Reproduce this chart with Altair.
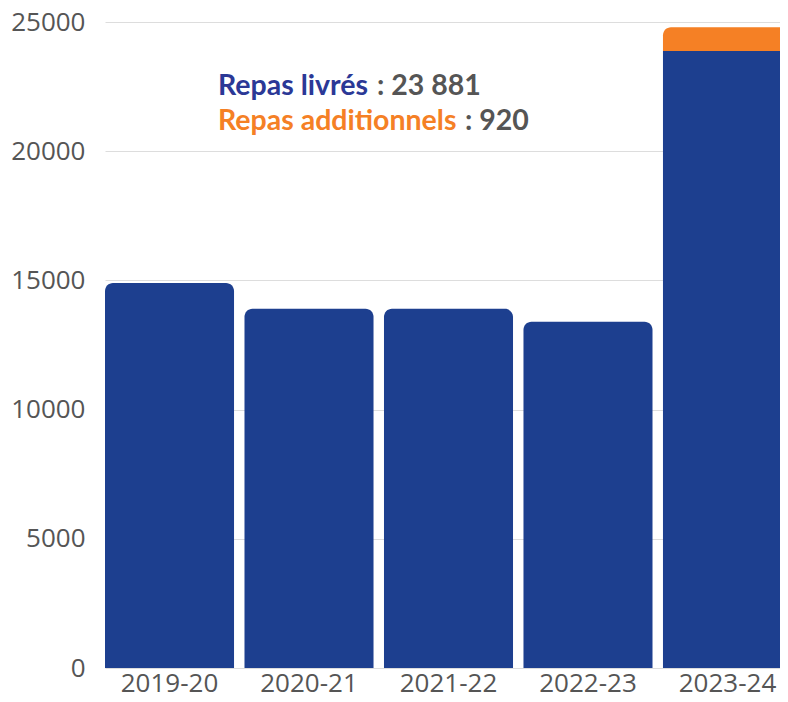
import altair as alt
import pandas as pd

years = ["2019-20", "2020-21", "2021-22", "2022-23", "2023-24"]
repas_livres = [14900, 13900, 13900, 13400, 23881]
repas_additionnels = [0, 0, 0, 0, 920]
series_names = ["Repas livrés", "Repas additionnels"]
y_ticks = [0, 5000, 10000, 15000, 20000, 25000]

BLUE = "#1D3F8F"
ORANGE = "#F58025"
TEXT_BLUE = "#2B3896"
GREY = "#555555"

rows = []
for i, yr in enumerate(years):
    has_add = repas_additionnels[i] > 0
    rows.append({"year": yr, "series": series_names[0], "value": repas_livres[i],
                 "order": 0, "top": not has_add})
    if has_add:
        rows.append({"year": yr, "series": series_names[1], "value": repas_additionnels[i],
                     "order": 1, "top": True})
df = pd.DataFrame(rows)

x_enc = alt.X("year:N", sort=years,
              scale=alt.Scale(paddingInner=0.075, paddingOuter=0, range=[0, 687]),
              axis=alt.Axis(title=None, labelAngle=0, ticks=False, domain=False,
                            labelFont="Open Sans", labelFontSize=26, labelColor=GREY,
                            labelPadding=2))
y_scale = alt.Scale(domain=[0, 25000], nice=False)
color_enc = alt.Color("series:N", scale=alt.Scale(domain=series_names, range=[BLUE, ORANGE]),
                      legend=None)

base = alt.Chart(df).transform_stack(
    stack="value", groupby=["year"], as_=["y0", "y1"],
    sort=[alt.SortField("order", order="ascending")]
)

bars_round = base.transform_filter("datum.top").mark_bar(
    cornerRadiusTopLeft=8, cornerRadiusTopRight=8
).encode(
    x=x_enc,
    y=alt.Y("y1:Q", scale=y_scale,
            axis=alt.Axis(title=None, values=y_ticks, format="d", ticks=False, domain=False,
                          gridColor="#DDDDDD", gridWidth=1,
                          labelFont="Open Sans", labelFontSize=26, labelColor=GREY,
                          labelPadding=20)),
    y2="y0:Q",
    color=color_enc,
)

bars_flat = base.transform_filter("!datum.top").mark_bar().encode(
    x=x_enc, y=alt.Y("y1:Q", scale=y_scale), y2="y0:Q", color=color_enc
)

fmt = lambda v: f"{v:,}".replace(",", " ")
line1_val = ": " + fmt(repas_livres[-1])
line2_val = ": " + fmt(repas_additionnels[-1])

def txt(t, color, x, y):
    return alt.Chart(pd.DataFrame({"t": [t]})).mark_text(
        align="left", baseline="alphabetic", font="Lato", fontWeight="bold",
        fontSize=28.5, color=color
    ).encode(text="t:N", x=alt.value(x), y=alt.value(y))

ann = (txt(series_names[0], TEXT_BLUE, 113, 73)
       + txt(line1_val, GREY, 272, 73)
       + txt(series_names[1], ORANGE, 113, 108)
       + txt(line2_val, GREY, 360, 108))

chart = alt.layer(bars_round, bars_flat, ann).properties(
    width=675, height=646,
    autosize=alt.AutoSizeParams(type="none"),
    padding={"left": 97, "top": 14, "right": 0, "bottom": 30},
).configure_view(stroke=None)

chart.save("out.html", embed_options={"renderer": "svg", "actions": False})
